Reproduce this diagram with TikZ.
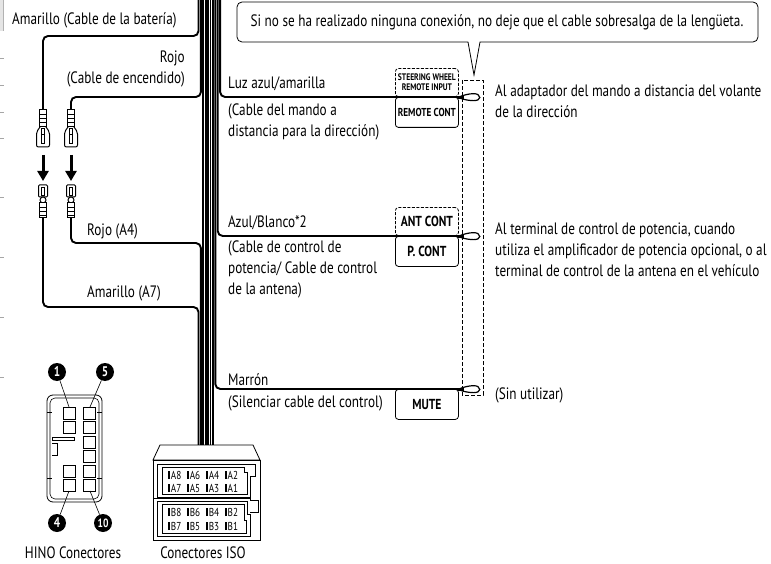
\documentclass[tikz,border=0pt]{standalone}
\usepackage{fontspec}
\setmainfont[FakeStretch=0.8]{PT Sans}
\usetikzlibrary{arrows.meta}

\newcommand\isopin[1]{\rule{2.2pt}{8pt}\kern0.8pt#1}

\tikzset{
  lbl/.style={font=\fontsize{16.5}{21}\selectfont, inner sep=0pt, align=left, anchor=west},
  wire/.style={line width=1.9pt, rounded corners=5pt},
  thinline/.style={line width=0.8pt},
  plugline/.style={line width=1pt},
  tagbox/.style={draw, line width=0.8pt, rounded corners=3pt, minimum width=63pt,
    minimum height=30pt, inner sep=0pt, font=\bfseries\fontsize{14.5}{15}\selectfont},
  optbox/.style={tagbox, dashed, dash pattern=on 3pt off 1.5pt, minimum height=28pt},
  pinno/.style={circle, fill=black, text=white, inner sep=0pt, minimum size=18pt,
    font=\bfseries\fontsize{14}{14}\selectfont},
  downarrow/.style={line width=3pt, -{Triangle[length=10pt,width=11pt]}},
  maleplug/.pic={
    \draw[plugline, fill=white] (-3.5,0) rectangle (3.5,17);
    \foreach \y in {4,8,12} \draw[line width=0.7pt] (-3.5,\y) -- (3.5,\y);
    \draw[plugline, rounded corners=2pt] (-3,17) -- (-6.5,22) -- (-6.5,37) -- (6.5,37) -- (6.5,22) -- (3,17);
    \draw[line width=0.7pt] (-1.5,18) rectangle (1.5,33);
    \draw[line width=0.7pt] (-1.5,24) -- (1.5,24);
  },
  femaleplug/.pic={
    \draw[plugline, rounded corners=1pt] (-4.5,0) rectangle (4.5,12);
    \draw[line width=0.7pt] (-1.5,2) rectangle (1.5,10);
    \draw[plugline, fill=white] (0,15) circle (3);
    \draw[plugline, fill=white] (-3.5,18) rectangle (3.5,33);
    \foreach \y in {22,26,30} \draw[line width=0.7pt] (-3.5,\y) -- (3.5,\y);
  },
  wireloop/.pic={
    \draw[line width=1.2pt] (0,0) .. controls (10,-4) and (21,-5) .. (21,0.5)
      .. controls (21,5) and (10,4) .. (2,1.5);
    \fill (-1,-1.2) rectangle (5,1.8);
  }
}

\begin{document}
\begin{tikzpicture}[x=1pt, y=-1pt]
\useasboundingbox (0,0) rectangle (771,564);

% edge of the page
\fill[gray!20] (0,0) rectangle (3,31);
\draw[gray!60, line width=0.6pt] (3,0) -- (3,31);
\foreach \y in {58,85,112,138,197,257,317,377}
  \draw[gray!70, line width=0.6pt] (0,\y) -- (4,\y);

% note
\draw[thinline] (468,42) -- (474,75) -- (480,42) [rounded corners=5pt] -- (758,42) -- (758,2)
  -- (237,2) -- (237,42) -- (468,42);
\node[lbl, anchor=center] (note) at (497,22)
  {Si no se ha realizado ninguna conexión, no deje que el cable sobresalga de la lengüeta.};

% tags
\node[optbox, anchor=south west, align=center, font=\bfseries\fontsize{9.5}{10}\selectfont]
  (steer) at (395,97) {STEERING WHEEL\\REMOTE INPUT};
\node[tagbox, anchor=north west, font=\bfseries\fontsize{11.5}{12}\selectfont]
  (remcont) at (395,97) {REMOTE CONT};
\node[optbox, anchor=south west] (antcont) at (395,236) {ANT CONT};
\node[tagbox, anchor=north west] (pcont) at (395,236) {P. CONT};
\node[tagbox, anchor=north west] (mute) at (395,389) {MUTE};
\draw[thinline, dashed, dash pattern=on 4pt off 2pt] (462,80) rectangle (483,395);

% plugs
\coordinate (batt) at (43,110);
\coordinate (ign) at (71,110);
\coordinate (a7) at (43,218);
\coordinate (a4) at (71,218);
\pic at (batt) {maleplug};
\pic at (ign) {maleplug};
\pic at (43,185) {femaleplug};
\pic at (71,185) {femaleplug};
\draw[downarrow] (43,155) -- (43,181);
\draw[downarrow] (71,155) -- (71,181);

% wires
\draw[wire] (198.5,0) |- (43,36) -- (batt);
\draw[wire] (200.9,0) |- (71,97) -- (ign);
\foreach \x in {203.3,205.7,208.1,210.5,212.9}
  \draw[wire] (\x,0) -- (\x,445);
\draw[wire] (215.3,0) |- (mute.north east);
\draw[wire] (217.7,0) |- (pcont.north east);
\draw[wire] (220.1,0) |- (remcont.north east);
\draw[wire] (a4) |- (200.9,243) -- (200.9,445);
\draw[wire] (a7) |- (198.5,307) -- (198.5,445);
\pic at (remcont.north east) {wireloop};
\pic at (pcont.north east) {wireloop};
\pic at (mute.north east) {wireloop};

% labels
\node[lbl] (battlbl) at (12,20) {Amarillo (Cable de la batería)};
\node[lbl, anchor=east, align=right] (ignlbl) at (185,69) {Rojo\\(Cable de encendido)};
\node[lbl] (a4lbl) at (87,231) {Rojo (A4)};
\node[lbl] (a7lbl) at (87,293) {Amarillo (A7)};
\node[lbl] (luzlbl) at (228,84) {Luz azul/amarilla};
\node[lbl] (mandolbl) at (228,122) {(Cable del mando a\\distancia para la dirección)};
\node[lbl] (azbllbl) at (228,223) {Azul/Blanco*2};
\node[lbl] (ctrllbl) at (228,269) {(Cable de control de\\potencia/ Cable de control\\de la antena)};
\node[lbl] (marronlbl) at (228,380) {Marrón};
\node[lbl] (silenlbl) at (228,403) {(Silenciar cable del control)};
\node[lbl] (adaptlbl) at (495,101) {Al adaptador del mando a distancia del volante\\de la dirección};
\node[lbl] (termlbl) at (495,250) {Al terminal de control de potencia, cuando\\utiliza el amplificador de potencia opcional, o al\\terminal de control de la antena en el vehículo};
\node[lbl] (sinlbl) at (495,395) {(Sin utilizar)};

% HINO connector
\draw[thinline, rounded corners=6pt] (47,395) rectangle (102,502);
\draw[line width=0.6pt, rounded corners=5pt] (50,398) rectangle (99,499);
\foreach \y in {412,478} {
  \draw[line width=0.6pt] (47,\y) -- (52,\y);
  \draw[line width=0.6pt] (97,\y) -- (102,\y);
}
\foreach \y in {407,421,465,479}
  \draw[thinline] (63,\y) rectangle (75,\y+12);
\foreach \y in {407,421,436,450,465,479}
  \draw[thinline] (83,\y) rectangle (95,\y+12);
\draw[line width=0.6pt] (52,437) rectangle (74,440);
\draw[line width=0.6pt] (52,443) -- (57,443) -- (57,455) -- (52,455);
\node[pinno] (p1) at (57,372) {1};
\node[pinno] (p5) at (105,372) {5};
\node[pinno] (p4) at (57,523) {4};
\node[pinno, font=\bfseries\fontsize{12}{12}\selectfont] (p10) at (103,523) {10};
\draw[line width=0.6pt] (p1) -- (69,407);
\draw[line width=0.6pt] (p5) -- (90,407);
\draw[line width=0.6pt] (p4) -- (69,491);
\draw[line width=0.6pt] (p10) -- (90,491);
\node[lbl, anchor=center] (hinolbl) at (73,553) {HINO Conectores};

% ISO connector
\draw[thinline, fill=white] (160,445) -- (253,445) -- (260,460) -- (153,460) -- cycle;
\draw[thinline] (153,460) rectangle (260,540);
\draw[thinline] (157,464) -- (255,464) -- (255,476) -- (250,476) -- (250,497) -- (157,497) -- cycle;
\draw[thinline] (162,467) -- (244,467) -- (244,472) -- (247,472) -- (247,494) -- (162,494) -- cycle;
\draw[thinline] (153,498) -- (250,498) -- (250,500) -- (258,500) -- (258,512) -- (250,512);
\draw[thinline] (157,501) -- (247,501) -- (247,514) -- (250,514) -- (250,536) -- (157,536) -- cycle;
\draw[thinline] (162,504) -- (244,504) -- (244,520) -- (246,520) -- (246,533) -- (162,533) -- cycle;
\node[inner sep=0pt, font=\fontsize{11.5}{12}\selectfont] (rowA1) at (203,475)
  {\isopin{A8}\hspace{5.5pt}\isopin{A6}\hspace{5.5pt}\isopin{A4}\hspace{5.5pt}\isopin{A2}};
\node[inner sep=0pt, font=\fontsize{11.5}{12}\selectfont] (rowA2) at (203,488)
  {\isopin{A7}\hspace{5.5pt}\isopin{A5}\hspace{5.5pt}\isopin{A3}\hspace{5.5pt}\isopin{A1}};
\node[inner sep=0pt, font=\fontsize{11.5}{12}\selectfont] (rowB1) at (203,512)
  {\isopin{B8}\hspace{5.5pt}\isopin{B6}\hspace{5.5pt}\isopin{B4}\hspace{5.5pt}\isopin{B2}};
\node[inner sep=0pt, font=\fontsize{11.5}{12}\selectfont] (rowB2) at (203,526)
  {\isopin{B7}\hspace{5.5pt}\isopin{B5}\hspace{5.5pt}\isopin{B3}\hspace{5.5pt}\isopin{B1}};
\node[lbl, anchor=center] (isolbl) at (203,553) {Conectores ISO};
\end{tikzpicture}
\end{document}
